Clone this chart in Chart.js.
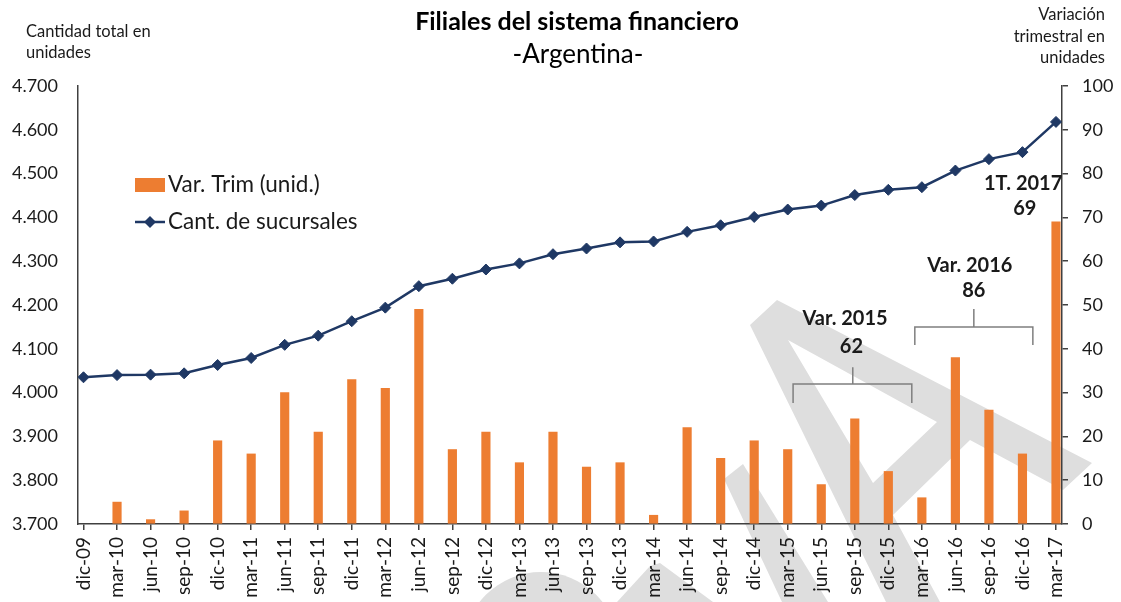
<!DOCTYPE html>
<html lang="es">
<head>
<meta charset="utf-8">
<title>Filiales del sistema financiero</title>
<script src="https://cdn.jsdelivr.net/npm/chart.js@4.4.1/dist/chart.umd.min.js"></script>
<style>
  html, body { margin: 0; padding: 0; background: #fff; }
  #wrap { width: 1121px; height: 602px; }
</style>
</head>
<body>
<div id="wrap"><canvas id="chart" width="1121" height="602"></canvas></div>
<script>
// Trimestres
const categories = ['dic-09', 'mar-10', 'jun-10', 'sep-10', 'dic-10', 'mar-11', 'jun-11', 'sep-11',
    'dic-11', 'mar-12', 'jun-12', 'sep-12', 'dic-12', 'mar-13', 'jun-13', 'sep-13', 'dic-13',
    'mar-14', 'jun-14', 'sep-14', 'dic-14', 'mar-15', 'jun-15', 'sep-15', 'dic-15', 'mar-16',
    'jun-16', 'sep-16', 'dic-16', 'mar-17'];

// Cantidad total de sucursales (eje izquierdo)
const sucursales = [4035, 4040, 4041, 4044, 4063, 4079, 4109, 4130, 4163, 4194, 4243, 4260, 4281,
    4295, 4316, 4329, 4343, 4345, 4367, 4382, 4401, 4418, 4427, 4451, 4463, 4469, 4507, 4533, 4549, 4618];

// Variación trimestral en unidades (eje derecho)
const varTrim = [null, 5, 1, 3, 19, 16, 30, 21, 33, 31, 49, 17, 21, 14, 21, 13, 14, 2, 22, 15, 19,
    17, 9, 24, 12, 6, 38, 26, 16, 69];

// Marcas de los ejes
const leftTicks = [3700, 3800, 3900, 4000, 4100, 4200, 4300, 4400, 4500, 4600, 4700];
const rightTicks = [0, 10, 20, 30, 40, 50, 60, 70, 80, 90, 100];

// Anotaciones
const notaEtiquetas = ['Var. 2015', 'Var. 2016', '1T. 2017'];
const notaValores = [62, 86, 69];

const ORANGE = '#ED7D31';
const NAVY = '#1F3864';
const AXIS = '#404040';
const TEXT = '#1a1a1a';

Chart.defaults.font.family = 'Lato';

const fmt = v => String(v).replace(/\B(?=(\d{3})+(?!\d))/g, '.');

function poly(ctx, pts) {
    ctx.moveTo(pts[0][0], pts[0][1]);
    for (let i = 1; i < pts.length; i++) ctx.lineTo(pts[i][0], pts[i][1]);
    ctx.closePath();
}

// grey logo in the background
const watermark = {
    id: 'watermark',
    beforeDraw(chart) {
        const ctx = chart.ctx;
        ctx.save();
        ctx.fillStyle = '#dedede';
        ctx.beginPath();
        poly(ctx, [[750, 325], [777, 300], [1092, 463], [1063, 490], [970, 440], [893, 515], [940, 602], [886, 602]]);
        poly(ctx, [[788, 340], [937, 422], [873, 483]]);
        ctx.fill('evenodd');
        ctx.beginPath();
        poly(ctx, [[724, 479], [743, 464], [828, 602], [782, 602]]);
        ctx.fill();
        ctx.beginPath();
        poly(ctx, [[617, 602], [650, 566], [660, 563], [713, 602]]);
        ctx.fill();
        ctx.beginPath();
        ctx.arc(541, 650, 78, 0, Math.PI * 2);
        ctx.fill();
        ctx.restore();
    }
};

const textos = {
    id: 'textos',
    afterDraw(chart) {
        const ctx = chart.ctx;
        ctx.save();
        ctx.fillStyle = '#000';
        ctx.textBaseline = 'middle';
        ctx.textAlign = 'center';
        ctx.font = 'bold 25px Lato';
        ctx.fillText('Filiales del sistema financiero', 577, 22);
        ctx.font = '26px Lato';
        ctx.fillText('-Argentina-', 578, 55);

        ctx.fillStyle = TEXT;
        ctx.font = '16.5px Lato';
        ctx.textAlign = 'left';
        ctx.fillText('Cantidad total en', 26, 32);
        ctx.fillText('unidades', 26, 53);
        ctx.textAlign = 'right';
        ctx.fillText('Variación', 1105, 15);
        ctx.fillText('trimestral en', 1105, 37);
        ctx.fillText('unidades', 1105, 58);

        // legend
        const [barDs, lineDs] = chart.data.datasets;
        ctx.fillStyle = ORANGE;
        ctx.fillRect(135, 178, 30, 14);
        ctx.strokeStyle = NAVY;
        ctx.lineWidth = 2.5;
        ctx.beginPath();
        ctx.moveTo(135, 222);
        ctx.lineTo(165, 222);
        ctx.stroke();
        ctx.fillStyle = NAVY;
        ctx.beginPath();
        poly(ctx, [[150, 216], [156, 222], [150, 228], [144, 222]]);
        ctx.fill();
        ctx.fillStyle = TEXT;
        ctx.textAlign = 'left';
        ctx.font = '22.5px Lato';
        ctx.fillText(barDs.label, 168, 185);
        ctx.fillText(lineDs.label, 168, 222);
        ctx.restore();
    }
};

const anotaciones = {
    id: 'anotaciones',
    afterDatasetsDraw(chart) {
        const ctx = chart.ctx;
        const px = v => chart.scales.x.getPixelForValue(v);
        const py = v => chart.scales.y.getPixelForValue(v);
        ctx.save();
        ctx.fillStyle = TEXT;
        ctx.font = 'bold 20px Lato';
        ctx.textAlign = 'center';
        ctx.textBaseline = 'middle';

        ctx.fillText(notaEtiquetas[0], px(22.71), py(4168));
        ctx.fillText(String(notaValores[0]), px(22.9), py(4106));
        ctx.fillText(notaEtiquetas[1], px(26.43), py(4289));
        ctx.fillText(String(notaValores[1]), px(26.55), py(4232));
        ctx.fillText(notaEtiquetas[2], px(28.02), py(4478));
        ctx.fillText(String(notaValores[2]), px(28.07), py(4421));

        ctx.strokeStyle = '#7f7f7f';
        ctx.lineWidth = 1.5;
        const bracket = (x0, x1, xm, yLine, yEnd, yTop) => {
            ctx.beginPath();
            ctx.moveTo(px(x0), py(yEnd));
            ctx.lineTo(px(x0), py(yLine));
            ctx.lineTo(px(x1), py(yLine));
            ctx.lineTo(px(x1), py(yEnd));
            ctx.moveTo(px(xm), py(yLine));
            ctx.lineTo(px(xm), py(yTop));
            ctx.stroke();
        };
        bracket(21.16, 24.70, 22.94, 4019.6, 3976, 4058);
        bracket(24.79, 28.31, 26.55, 4149.8, 4108.7, 4191);
        ctx.restore();
    }
};

new Chart(document.getElementById('chart'), {
    type: 'bar',
    data: {
        datasets: [{
            type: 'bar',
            label: 'Var. Trim (unid.)',
            data: varTrim.map((v, i) => ({ x: i, y: v })),
            yAxisID: 'y1',
            backgroundColor: ORANGE,
            borderWidth: 0,
            barThickness: 8.5,
            order: 2
        }, {
            type: 'line',
            label: 'Cant. de sucursales',
            data: sucursales.map((v, i) => ({ x: i, y: v })),
            yAxisID: 'y',
            borderColor: NAVY,
            backgroundColor: NAVY,
            borderWidth: 2.5,
            tension: 0,
            pointStyle: 'rectRot',
            pointRadius: 5.5,
            pointBorderWidth: 1,
            order: 1
        }]
    },
    options: {
        responsive: false,
        animation: false,
        devicePixelRatio: 1,
        layout: { padding: { top: 86, left: 0, right: 0, bottom: 0 } },
        plugins: {
            legend: { display: false },
            tooltip: { enabled: false }
        },
        scales: {
            x: {
                type: 'linear',
                offset: false,
                min: -0.164,
                max: 29.179,
                afterBuildTicks: s => { s.ticks = categories.map((c, i) => ({ value: i })); },
                afterFit: s => { s.height = 78; },
                grid: { offset: false, drawOnChartArea: false, drawTicks: true, tickLength: 6, color: AXIS, lineWidth: 1.5 },
                border: { display: true, color: AXIS, width: 1.5 },
                ticks: {
                    autoSkip: false,
                    minRotation: 90,
                    maxRotation: 90,
                    padding: 7,
                    color: TEXT,
                    font: { size: 19 },
                    callback: v => categories[v]
                }
            },
            y: {
                position: 'left',
                min: 3700,
                max: 4700,
                afterBuildTicks: s => { s.ticks = leftTicks.map(v => ({ value: v })); },
                afterFit: s => { s.width = 78; },
                grid: { drawOnChartArea: false, drawTicks: false },
                border: { display: true, color: AXIS, width: 1.5 },
                ticks: { padding: 20, color: TEXT, font: { size: 18 }, callback: v => fmt(v) }
            },
            y1: {
                position: 'right',
                min: 0,
                max: 100,
                afterBuildTicks: s => { s.ticks = rightTicks.map(v => ({ value: v })); },
                afterFit: s => { s.width = 59; },
                grid: { drawOnChartArea: false, drawTicks: true, tickLength: 6, color: AXIS, lineWidth: 1.5 },
                border: { display: true, color: AXIS, width: 1.5 },
                ticks: { padding: 14, color: TEXT, font: { size: 18 } }
            }
        }
    },
    plugins: [watermark, anotaciones, textos]
});
</script>
</body>
</html>
